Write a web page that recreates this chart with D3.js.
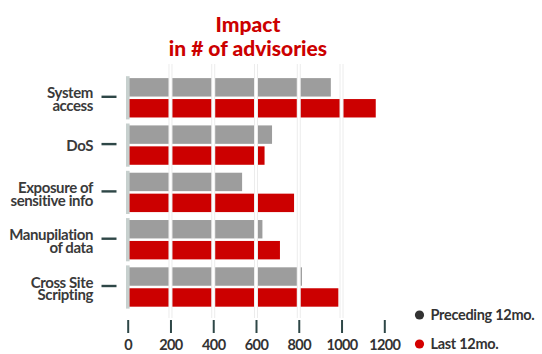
<!DOCTYPE html>
<html>
<head>
<meta charset="utf-8">
<script src="https://cdn.jsdelivr.net/npm/d3@7/dist/d3.min.js"></script>
<style>
  html, body { margin: 0; padding: 0; background: #fff; }
  svg { display: block; font-family: Lato, "Open Sans", sans-serif; }
</style>
</head>
<body>
<svg id="chart" width="542" height="354"></svg>
<script>
// Advisory counts by impact type
const categories = [
  ["System", "access"],
  ["DoS"],
  ["Exposure of", "sensitive info"],
  ["Manupilation", "of data"],
  ["Cross Site", "Scripting"]
];
const seriesNames = ["Preceding 12mo.", "Last 12mo."];
const preceding = [950, 675, 535, 630, 815];
const last12 = [1160, 640, 778, 712, 985];
const xTicks = [0, 200, 400, 600, 800, 1000, 1200];
const gridTicks = [0, 200, 400, 600, 800, 1000];

const colors = { "Preceding 12mo.": "#9d9d9d", "Last 12mo.": "#cc0000" };
const legendDots = { "Preceding 12mo.": "#333333", "Last 12mo.": "#d40000" };

const svg = d3.select("#chart");
const keys = categories.map(c => c.join(" "));

const x = d3.scaleLinear().domain([0, 1200]).range([127.7, 384.3]);
const y = d3.scaleBand().domain(keys).range([70.6, 314.2]).padding(0.15);
const y1 = d3.scaleBand().domain(seriesNames).range([0, y.bandwidth()]).paddingInner(0.12).paddingOuter(0.02);

// title
const title = svg.append("text")
  .attr("x", 248).attr("text-anchor", "middle")
  .attr("fill", "#cc0000").attr("font-weight", 900).attr("font-size", 21);
title.append("tspan").attr("x", 248).attr("y", 32).text("Impact");
title.append("tspan").attr("x", 248).attr("y", 56).text("in # of advisories");

// bars
const rows = keys.map((k, i) => ({ key: k, values: [
  { name: seriesNames[0], v: preceding[i] },
  { name: seriesNames[1], v: last12[i] }
]}));

const g = svg.append("g").selectAll("g").data(rows).join("g")
  .attr("transform", d => `translate(0,${y(d.key)})`);

g.selectAll("rect.bar").data(d => d.values).join("rect")
  .attr("class", "bar")
  .attr("x", x(0))
  .attr("y", d => y1(d.name))
  .attr("width", d => x(d.v) - x(0))
  .attr("height", y1.bandwidth())
  .attr("fill", d => colors[d.name]);

// vertical grid lines over the bars
const grid = svg.append("g");
grid.selectAll("line.edge").data(gridTicks.slice(1)).join("line")
  .attr("x1", d => x(d)).attr("x2", d => x(d))
  .attr("y1", 64).attr("y2", 318)
  .attr("stroke", "#ececec").attr("stroke-width", 4);
grid.selectAll("line.core").data(gridTicks.slice(1)).join("line")
  .attr("x1", d => x(d)).attr("x2", d => x(d))
  .attr("y1", 64).attr("y2", 318)
  .attr("stroke", "#ffffff").attr("stroke-width", 2);

// baseline band per category
svg.append("g").selectAll("rect").data(keys).join("rect")
  .attr("x", 126).attr("width", 3.6)
  .attr("y", d => y(d) - 1.5)
  .attr("height", y.bandwidth() + 3)
  .attr("fill", "#c7d0ce");

// category ticks and labels
const cat = svg.append("g");
cat.selectAll("line").data(keys).join("line")
  .attr("x1", 101.5).attr("x2", 116.5)
  .attr("y1", d => y(d) + y.bandwidth() / 2 - 1)
  .attr("y2", d => y(d) + y.bandwidth() / 2 - 1)
  .attr("stroke", "#2e4747").attr("stroke-width", 2.4);

cat.selectAll("text").data(categories).join("text")
  .attr("text-anchor", "end")
  .attr("fill", "#3a3a3a").attr("font-weight", 700).attr("font-size", 15)
  .attr("letter-spacing", -0.4)
  .each(function (lines, i) {
    const c = y(keys[i]) + y.bandwidth() / 2;
    const t = d3.select(this);
    if (lines.length === 1) {
      t.append("tspan").attr("x", 93).attr("y", c + 5.5).text(lines[0]);
    } else {
      lines.forEach((l, j) => t.append("tspan").attr("x", 93).attr("y", c + 0.5 + j * 12.8).text(l));
    }
  });

// x axis
const xAxis = svg.append("g").attr("transform", "translate(0,320)")
  .call(d3.axisBottom(x).tickValues(xTicks).tickSize(13).tickPadding(7).tickFormat(d3.format("d")));
xAxis.select(".domain").remove();
xAxis.selectAll(".tick line").attr("stroke", "#2e4747").attr("stroke-width", 2);
xAxis.selectAll(".tick text")
  .attr("fill", "#333").attr("font-weight", 700).attr("font-size", 14.5)
  .attr("font-family", "Lato, sans-serif").attr("letter-spacing", -0.6);

// legend
const legend = svg.append("g").selectAll("g").data(seriesNames).join("g")
  .attr("transform", (d, i) => `translate(419.5,${315 + i * 29})`);
legend.append("circle").attr("r", 4.6).attr("fill", d => legendDots[d]);
legend.append("text").attr("x", 11).attr("y", 5)
  .attr("fill", "#333").attr("font-weight", 700).attr("font-size", 14.5)
  .attr("letter-spacing", -0.3)
  .text(d => d);
</script>
</body>
</html>
